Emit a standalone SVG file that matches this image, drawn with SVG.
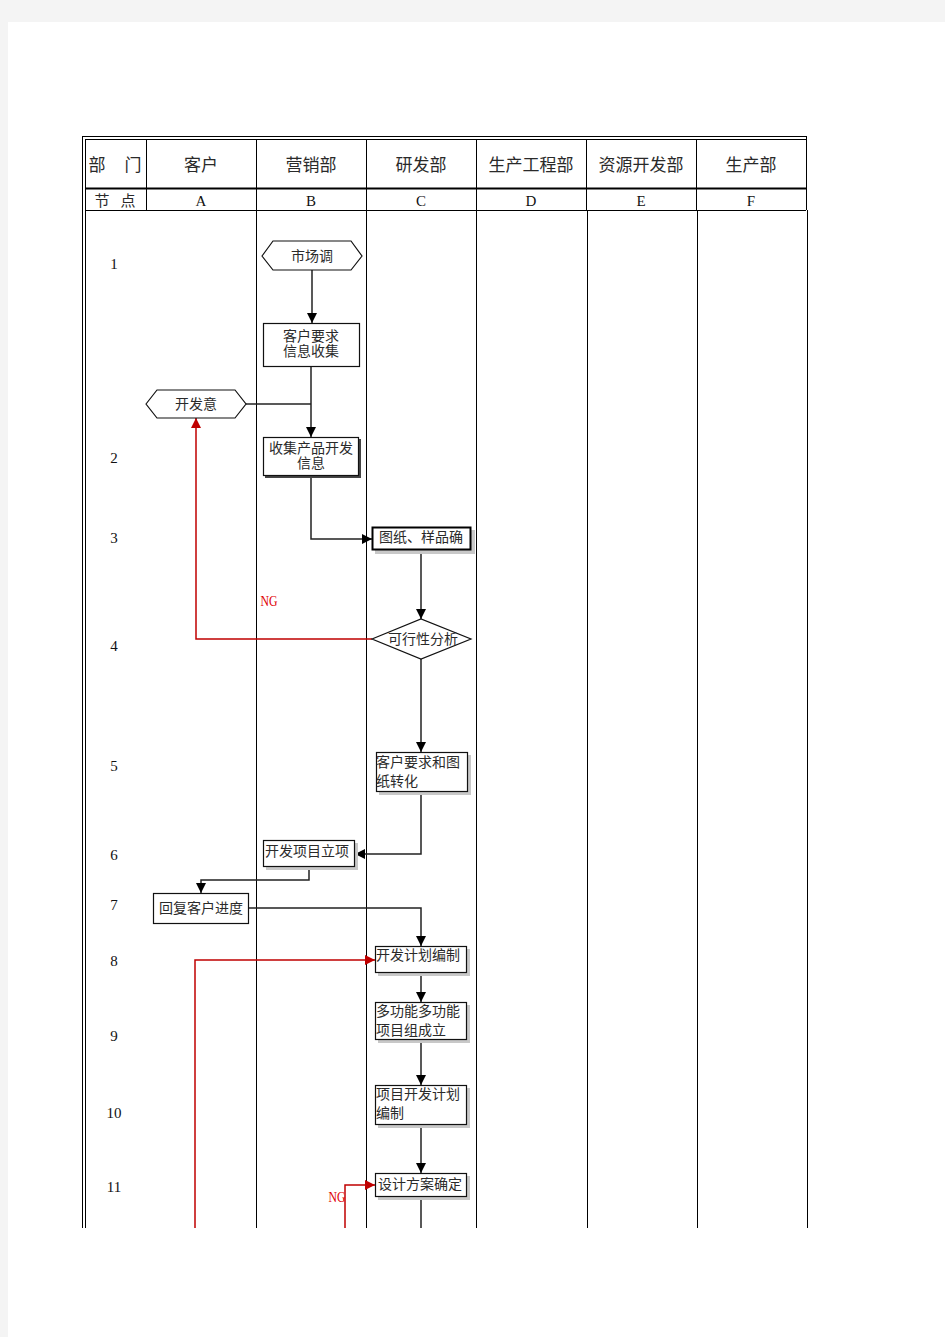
<svg xmlns="http://www.w3.org/2000/svg" width="945" height="1337" viewBox="0 0 945 1337">
<style>
.t{font-family:"Liberation Serif","Noto Sans CJK SC",serif;fill:#2a2a2a}
.h{font-size:17px;text-anchor:middle}
.n{font-size:14px}
.c{text-anchor:middle}
.num{font-family:"Liberation Serif",serif;font-size:15px;fill:#111;text-anchor:middle}
.mono{font-family:"Liberation Serif",serif;font-size:15px;fill:#111;text-anchor:middle}
.grid{stroke:#000;stroke-width:1;fill:none}
.box{fill:#fff;stroke:#111;stroke-width:1.2}
.sh{fill:#c8c8c8}
.ln{fill:none;stroke:#222;stroke-width:1.5}
.rl{fill:none;stroke:#c00000;stroke-width:1.5}
.ng{font-family:"Liberation Serif",serif;font-size:14px;fill:#e00000}
</style>
<defs>
<marker id="ab" viewBox="0 0 10 10" refX="10" refY="5" markerWidth="10" markerHeight="10" orient="auto" markerUnits="userSpaceOnUse">
<path d="M0,0 L10,5 L0,10 z" fill="#000"/>
</marker>
<marker id="ar" viewBox="0 0 10 10" refX="10" refY="5" markerWidth="10" markerHeight="10" orient="auto" markerUnits="userSpaceOnUse">
<path d="M0,0 L10,5 L0,10 z" fill="#c00000"/>
</marker>
</defs>
<rect x="0" y="0" width="945" height="1337" fill="#f4f4f4"/>
<rect x="8" y="22" width="937" height="1315" fill="#fff"/>

<g id="table">
<path class="grid" d="M82,136.5H807 M85,139.5H806 M82.5,136V1228 M85.5,139V1228 M806.5,136V210"/>
<path class="grid" d="M807.5,210V1228"/>
<path d="M85,188.5H806" stroke="#000" stroke-width="2"/>
<path class="grid" d="M85,210.5H806"/>
<path class="grid" d="M146.5,139V210 M256.5,139V1228 M366.5,139V1228 M476.5,139V1228 M586.5,139V210 M696.5,139V210 M587.5,210V1228 M697.5,210V1228"/>
<text class="t" x="97" y="171" font-size="17" text-anchor="middle">部</text>
<text class="t" x="133" y="171" font-size="17" text-anchor="middle">门</text>
<text class="t h" x="201" y="171">客户</text>
<text class="t h" x="311" y="171">营销部</text>
<text class="t h" x="421" y="171">研发部</text>
<text class="t h" x="531" y="171">生产工程部</text>
<text class="t h" x="641" y="171">资源开发部</text>
<text class="t h" x="751" y="171">生产部</text>
<text class="t" x="102" y="206" font-size="15" text-anchor="middle">节</text>
<text class="t" x="128" y="206" font-size="15" text-anchor="middle">点</text>
<text class="mono" x="201" y="206">A</text>
<text class="mono" x="311" y="206">B</text>
<text class="mono" x="421" y="206">C</text>
<text class="mono" x="531" y="206">D</text>
<text class="mono" x="641" y="206">E</text>
<text class="mono" x="751" y="206">F</text>
</g>

<g id="rownums">
<text class="num" x="114" y="269">1</text>
<text class="num" x="114" y="463">2</text>
<text class="num" x="114" y="543">3</text>
<text class="num" x="114" y="651" fill="#555">4</text>
<text class="num" x="114" y="771">5</text>
<text class="num" x="114" y="860">6</text>
<text class="num" x="114" y="910">7</text>
<text class="num" x="114" y="966">8</text>
<text class="num" x="114" y="1041">9</text>
<text class="num" x="114" y="1118">10</text>
<text class="num" x="114" y="1192">11</text>
</g>

<g id="connectors">
<path class="ln" d="M312,270V323" marker-end="url(#ab)"/>
<path class="ln" d="M311,366V437" marker-end="url(#ab)"/>
<path class="ln" d="M246,404H311"/>
<path class="ln" d="M311,476V539H372" marker-end="url(#ab)"/>
<path class="ln" d="M421,551V619" marker-end="url(#ab)"/>
<path class="rl" d="M372,639H196V418" marker-end="url(#ar)"/>
<path class="ln" d="M421,659V752" marker-end="url(#ab)"/>
<path class="ln" d="M421,792V854H355" marker-end="url(#ab)"/>
<path class="ln" d="M309,867V880H201V893" marker-end="url(#ab)"/>
<path class="ln" d="M248,908H421V946" marker-end="url(#ab)"/>
<path class="rl" d="M195,1228V960H375" marker-end="url(#ar)"/>
<path class="ln" d="M421,973V1002" marker-end="url(#ab)"/>
<path class="ln" d="M421,1040V1085" marker-end="url(#ab)"/>
<path class="ln" d="M421,1125V1173" marker-end="url(#ab)"/>
<path class="rl" d="M345,1228V1185H375" marker-end="url(#ar)"/>
<path class="ln" d="M421,1196V1228"/>
<text class="ng" x="269" y="606" text-anchor="middle" textLength="17" lengthAdjust="spacingAndGlyphs">NG</text>
<text class="ng" x="337" y="1202" text-anchor="middle" textLength="17" lengthAdjust="spacingAndGlyphs">NG</text>
</g>

<g id="n1">
<polygon class="box" points="262,256 273,241 351,241 362,256 351,270 273,270"/>
<text class="t n c" x="312" y="261">市场调</text>
</g>
<g id="n2">
<rect class="box" x="263.5" y="323.5" width="96" height="43"/>
<text class="t n c" x="311" y="341">客户要求</text>
<text class="t n c" x="311" y="356">信息收集</text>
</g>
<g id="n3">
<polygon class="box" points="146,404 157,390 235,390 246,404 235,418 157,418"/>
<text class="t n c" x="196" y="409">开发意</text>
</g>
<g id="n4">
<rect x="265" y="439" width="96" height="39" fill="#444"/>
<rect class="box" x="263.5" y="437.5" width="95" height="38"/>
<text class="t n c" x="311" y="453">收集产品开发</text>
<text class="t n c" x="311" y="468">信息</text>
</g>
<g id="n5">
<rect class="sh" x="375" y="530" width="100" height="24"/>
<rect x="372.5" y="527.5" width="98" height="22" fill="#fff" stroke="#000" stroke-width="2"/>
<text class="t n c" x="421" y="542">图纸、样品确</text>
</g>
<g id="n6">
<polygon class="box" points="372,639 421,619 471,639 421,659"/>
<text class="t n c" x="423" y="644">可行性分析</text>
</g>
<g id="n7">
<rect class="sh" x="379" y="755" width="92" height="40"/>
<rect class="box" x="376.5" y="752.5" width="91" height="39"/>
<text class="t n" x="376" y="767">客户要求和图</text>
<text class="t n" x="376" y="786">纸转化</text>
</g>
<g id="n8">
<rect class="sh" x="266" y="843" width="92" height="27"/>
<rect class="box" x="263.5" y="840.5" width="91" height="26"/>
<text class="t n" x="265" y="856">开发项目立项</text>
</g>
<g id="n9">
<rect class="box" x="153.5" y="893.5" width="95" height="30"/>
<text class="t n c" x="201" y="913">回复客户进度</text>
</g>
<g id="n10">
<rect class="sh" x="378" y="949" width="92" height="27"/>
<rect class="box" x="375.5" y="946.5" width="91" height="26"/>
<text class="t n" x="376" y="960">开发计划编制</text>
</g>
<g id="n11">
<rect class="sh" x="378" y="1005" width="92" height="38"/>
<rect class="box" x="375.5" y="1002.5" width="91" height="37"/>
<text class="t n" x="376" y="1016">多功能多功能</text>
<text class="t n" x="376" y="1035">项目组成立</text>
</g>
<g id="n12">
<rect class="sh" x="378" y="1088" width="92" height="40"/>
<rect class="box" x="375.5" y="1085.5" width="91" height="39"/>
<text class="t n" x="376" y="1099">项目开发计划</text>
<text class="t n" x="376" y="1118">编制</text>
</g>
<g id="n13">
<rect class="sh" x="378" y="1176" width="92" height="24"/>
<rect class="box" x="375.5" y="1173.5" width="91" height="23"/>
<text class="t n" x="378" y="1189">设计方案确定</text>
</g>
</svg>
